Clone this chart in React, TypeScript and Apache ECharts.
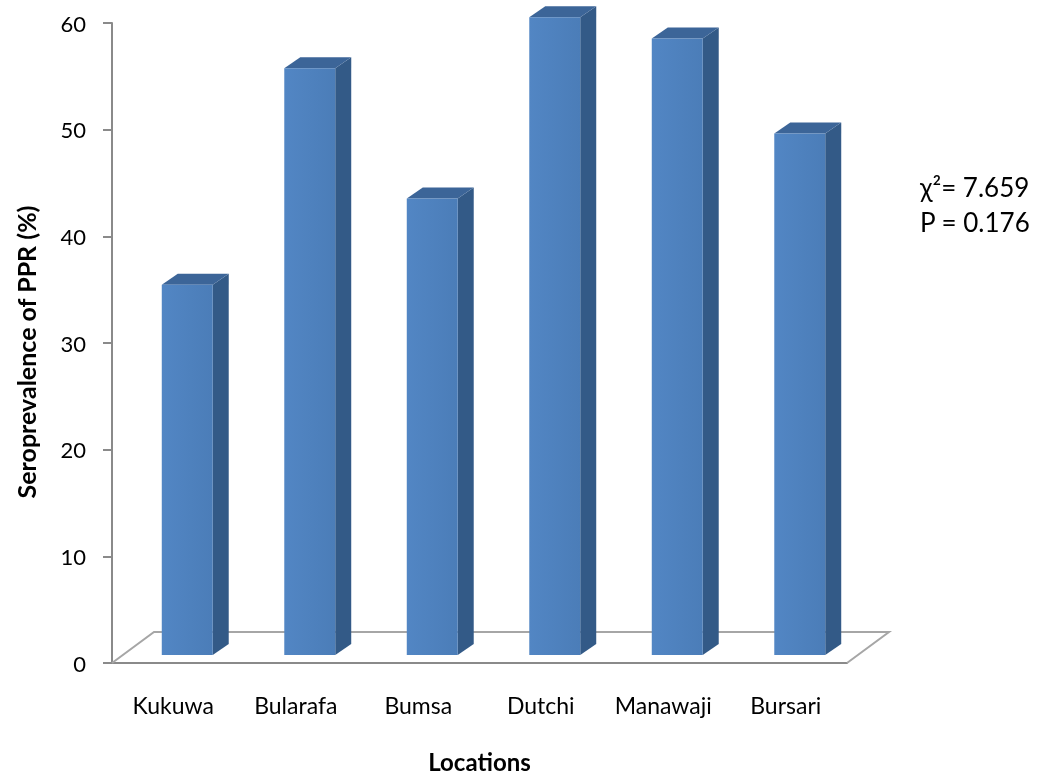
import React, { useEffect, useRef } from "react";
import * as echarts from "echarts";

const categories = ["Kukuwa", "Bularafa", "Bumsa", "Dutchi", "Manawaji", "Bursari"];
const seroprevalence = [34.7, 55.0, 42.8, 59.8, 57.8, 48.9];
const yMin = 0;
const yMax = 60;
const yInterval = 10;
const statLines = ["χ²= 7.659", "P = 0.176"];

const FONT = "Lato";
const AXIS_GRAY = "#8a8a8a";
const FLOOR_GRAY = "#a6a6a6";
const SIDE = "#335a87";
const TOP = "#3c6598";

// 3D projection styling constants (pixels)
const FLOOR_DX = 42;
const FLOOR_DY = 31;
const BAR_OFF_X = 14;
const BAR_OFF_Y = 8;
const BAR_DX = 16;
const BAR_DY = 11;
const BAR_RATIO = 0.416;

export default function App() {
  const ref = useRef<HTMLDivElement>(null);
  useEffect(() => {
    const chart = echarts.init(ref.current!, null, { renderer: "svg" });

    const floorRender = (params: any, api: any) => {
      const band = api.size([1, 0])[0];
      const p0 = api.coord([0, 0]);
      const pN = api.coord([categories.length - 1, 0]);
      const left = p0[0] - band / 2;
      const right = pN[0] + band / 2;
      const y = p0[1];
      return {
        type: "polyline",
        shape: {
          points: [
            [left, y],
            [left + FLOOR_DX, y - FLOOR_DY],
            [right + FLOOR_DX, y - FLOOR_DY],
            [right, y],
          ],
        },
        style: { stroke: FLOOR_GRAY, lineWidth: 2, fill: null },
        silent: true,
      };
    };

    const barRender = (params: any, api: any) => {
      const idx = api.value(0);
      const v = api.value(1);
      const base = api.coord([idx, 0]);
      const top = api.coord([idx, v]);
      const band = api.size([1, 0])[0];
      const w = band * BAR_RATIO;
      const x0 = base[0] + BAR_OFF_X - w / 2;
      const x1 = x0 + w;
      const yb = base[1] - BAR_OFF_Y;
      const yt = top[1] - BAR_OFF_Y;
      return {
        type: "group",
        children: [
          {
            type: "polygon",
            shape: { points: [[x1, yb], [x1 + BAR_DX, yb - BAR_DY], [x1 + BAR_DX, yt - BAR_DY], [x1, yt]] },
            style: { fill: SIDE },
          },
          {
            type: "polygon",
            shape: { points: [[x0, yt], [x0 + BAR_DX, yt - BAR_DY], [x1 + BAR_DX, yt - BAR_DY], [x1, yt]] },
            style: { fill: TOP },
          },
          {
            type: "rect",
            shape: { x: x0, y: yt, width: w, height: yb - yt },
            style: {
              fill: new echarts.graphic.LinearGradient(0, 0, 1, 0, [
                { offset: 0, color: "#5286c4" },
                { offset: 1, color: "#4b7db8" },
              ]),
            },
          },
        ],
      };
    };

    chart.setOption({
      animation: false,
      grid: { left: 112, right: 193, top: 23, bottom: 114 },
      xAxis: {
        type: "category",
        data: categories,
        name: "Locations",
        nameLocation: "middle",
        nameGap: 86,
        nameTextStyle: { fontFamily: FONT, fontSize: 24, fontWeight: "bold", color: "#000" },
        axisLine: { lineStyle: { color: AXIS_GRAY, width: 2 } },
        axisTick: { length: 8, lineStyle: { color: AXIS_GRAY, width: 2 } },
        axisLabel: { fontFamily: FONT, fontSize: 23, color: "#000", margin: 30, interval: 0, hideOverlap: false },
        splitLine: { show: false },
      },
      yAxis: {
        type: "value",
        min: yMin,
        max: yMax,
        interval: yInterval,
        name: "Seroprevalence of PPR (%)",
        nameLocation: "middle",
        nameGap: 74,
        nameTextStyle: { fontFamily: FONT, fontSize: 25, fontWeight: "bold", color: "#000", padding: [0, 18, 0, 0] },
        axisLine: { show: true, lineStyle: { color: AXIS_GRAY, width: 2 } },
        axisTick: { show: true, length: 9, lineStyle: { color: AXIS_GRAY, width: 2 } },
        axisLabel: { fontFamily: FONT, fontSize: 22, color: "#000", margin: 26 },
        splitLine: { show: false },
      },
      graphic: statLines.map((t, i) => ({
        type: "text",
        left: 920,
        top: 174 + i * 35,
        style: { text: t, fontFamily: FONT, fontSize: 26, fill: "#000" },
      })),
      series: [
        { type: "custom", z: 1, data: [[0, 0]], encode: { x: 0, y: 1 }, renderItem: floorRender, silent: true },
        {
          type: "custom",
          z: 2,
          data: categories.map((c, i) => [i, seroprevalence[i]]),
          encode: { x: 0, y: 1 },
          renderItem: barRender,
        },
      ],
    });
    return () => chart.dispose();
  }, []);
  return <div ref={ref} style={{ position: "fixed", left: 0, top: 0, width: 1040, height: 778 }} />;
}
